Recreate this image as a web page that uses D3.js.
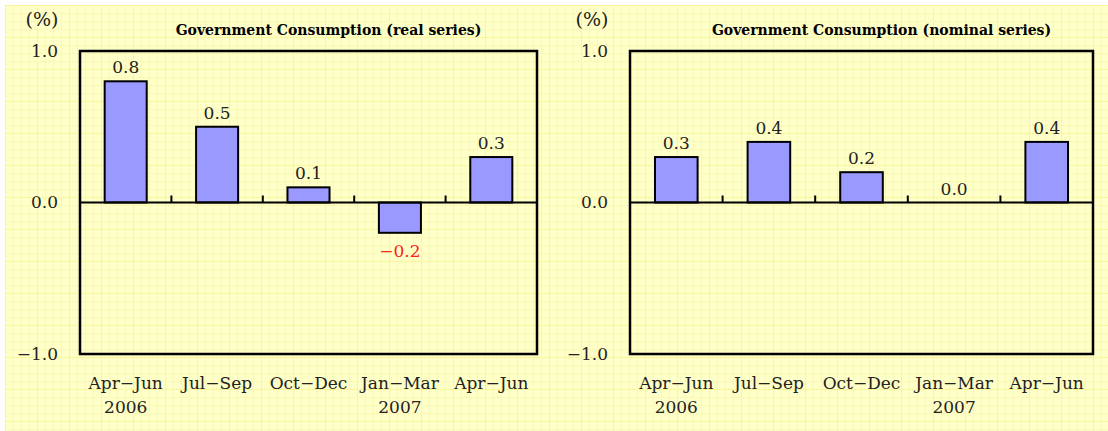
<!DOCTYPE html>
<html>
<head>
<meta charset="utf-8">
<script src="https://cdn.jsdelivr.net/npm/d3@7"></script>
<style>
body{margin:0;background:#fff;}
svg text{font-family:"DejaVu Serif","Liberation Serif",serif;}
</style>
</head>
<body>
<div id="chart"></div>
<script>
// data
var quarters=["Apr-Jun","Jul-Sep","Oct-Dec","Jan-Mar","Apr-Jun"];
var years=["2006","","","2007",""];
var realValues=[0.8,0.5,0.1,-0.2,0.3];
var nominalValues=[0.3,0.4,0.2,0.0,0.4];
var yTicks=[1.0,0.0,-1.0];

var svgWidth=1108, svgHeight=431;

var svg=d3.select("#chart").append("svg")
.attr("width",svgWidth)
.attr("height",svgHeight);

// yellow grid paper background
var defs=svg.append("defs");
var pat=defs.append("pattern")
.attr("id","grid")
.attr("width",32).attr("height",32)
.attr("patternUnits","userSpaceOnUse")
.attr("x",5).attr("y",5);
pat.append("rect").attr("width",32).attr("height",32).attr("fill","#ffffc8");
[0,8,16,24].forEach(function(p) {
    var c=p===0?"#fbf59a":"#fcf8b4";
    pat.append("line").attr("x1",p+0.5).attr("x2",p+0.5).attr("y1",0).attr("y2",32).attr("stroke",c).attr("stroke-width",1);
    pat.append("line").attr("y1",p+0.5).attr("y2",p+0.5).attr("x1",0).attr("x2",32).attr("stroke",c).attr("stroke-width",1);
});
svg.append("rect")
.attr("x",5).attr("y",5)
.attr("width",svgWidth-5).attr("height",svgHeight-5)
.attr("fill","url(#grid)");

// draw one panel
function drawPanel(left,right,title,values) {
    var top=51, bottom=354;
    var x=d3.scaleBand().domain(d3.range(values.length)).range([left,right]).paddingInner(0.54).paddingOuter(0.27);
    var y=d3.scaleLinear().domain([-1,1]).range([bottom,top]);
    var g=svg.append("g");

    // title
    g.append("text")
    .attr("x",(left+right)/2+20).attr("y",35)
    .attr("text-anchor","middle")
    .attr("font-size",14).attr("font-weight","bold")
    .text(title);

    // unit label
    g.append("text")
    .attr("x",left-38).attr("y",26)
    .attr("text-anchor","middle")
    .attr("font-size",19).attr("fill","#222")
    .text("(%)");

    // y axis labels
    var yAxis=d3.axisLeft(y).tickValues(yTicks).tickSize(0).tickPadding(22).tickFormat(d3.format(".1f"));
    var ya=g.append("g").attr("transform",`translate(${left},0)`).call(yAxis);
    ya.select(".domain").remove();
    ya.selectAll("text").attr("font-size",17).attr("fill","#222")
    .attr("font-family","DejaVu Serif, serif")
    .text(d=>d<0?"\u22121.0":d3.format(".1f")(d));

    // bars
    g.selectAll("rect.bar").data(values).enter().append("rect")
    .attr("class","bar")
    .attr("x",(d,i)=>x(i))
    .attr("y",d=>y(Math.max(d,0)))
    .attr("width",x.bandwidth())
    .attr("height",d=>Math.abs(y(d)-y(0)))
    .attr("fill","#9999ff")
    .attr("stroke","#000").attr("stroke-width",2);

    // value labels
    g.selectAll("text.val").data(values).enter().append("text")
    .attr("class","val")
    .attr("x",(d,i)=>x(i)+x.bandwidth()/2)
    .attr("y",d=>d<0?y(d)+24:y(d)-8)
    .attr("text-anchor","middle")
    .attr("font-size",17)
    .attr("fill",d=>d<0?"#ff2020":"#222")
    .text(d=>d<0?"\u2212"+d3.format(".1f")(-d):d3.format(".1f")(d));

    // zero line with tick marks between categories
    g.append("line")
    .attr("x1",left).attr("x2",right)
    .attr("y1",y(0)).attr("y2",y(0))
    .attr("stroke","#000").attr("stroke-width",2);
    var step=(right-left)/values.length;
    g.selectAll("line.tick").data(d3.range(1,values.length)).enter().append("line")
    .attr("class","tick")
    .attr("x1",d=>left+d*step).attr("x2",d=>left+d*step)
    .attr("y1",y(0)).attr("y2",y(0)-7)
    .attr("stroke","#000").attr("stroke-width",2);

    // frame
    g.append("rect")
    .attr("x",left).attr("y",top)
    .attr("width",right-left).attr("height",bottom-top)
    .attr("fill","none").attr("stroke","#000").attr("stroke-width",2.5);

    // category labels
    g.selectAll("text.cat").data(quarters).enter().append("text")
    .attr("class","cat")
    .attr("x",(d,i)=>x(i)+x.bandwidth()/2)
    .attr("y",389)
    .attr("text-anchor","middle")
    .attr("font-size",17).attr("fill","#222")
    .text(d=>d.replace("-","\u2212"));
    g.selectAll("text.yr").data(years).enter().append("text")
    .attr("class","yr")
    .attr("x",(d,i)=>x(i)+x.bandwidth()/2)
    .attr("y",413)
    .attr("text-anchor","middle")
    .attr("font-size",17).attr("fill","#222")
    .text(d=>d);
}

drawPanel(80,537,"Government Consumption (real series)",realValues);
drawPanel(630,1093,"Government Consumption (nominal series)",nominalValues);
</script>
</body>
</html>
